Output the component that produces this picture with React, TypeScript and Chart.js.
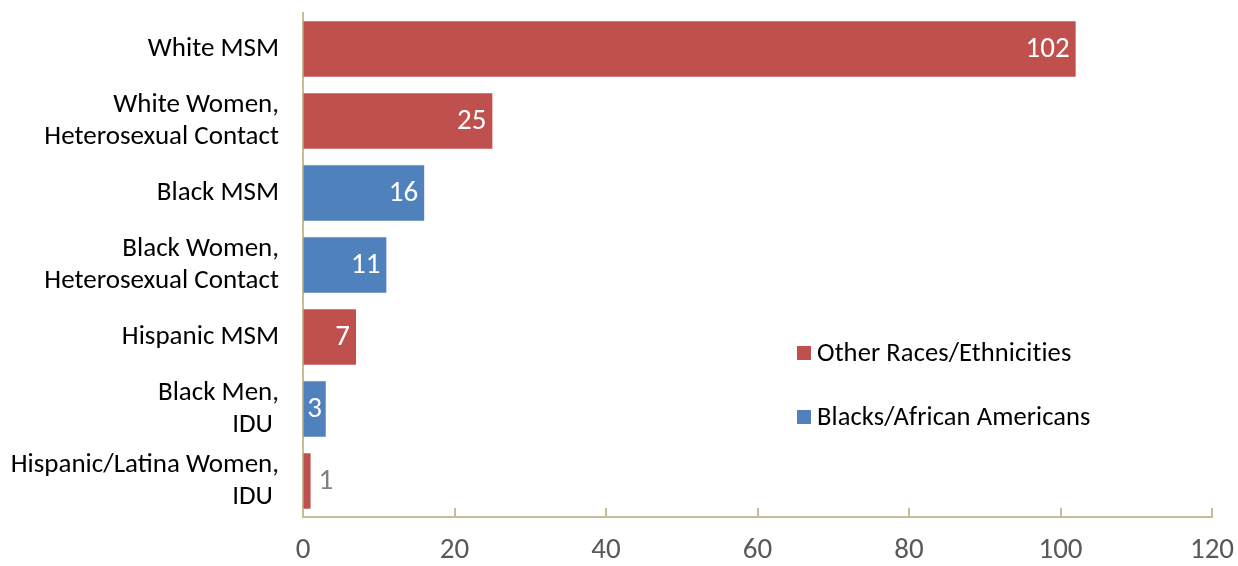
import React, { useEffect, useRef } from "react";
import { Chart, registerables } from "chart.js";

Chart.register(...registerables);

const categories: (string | string[])[] = [
  "White MSM",
  ["White Women,", "Heterosexual Contact"],
  "Black MSM",
  ["Black Women,", "Heterosexual Contact"],
  "Hispanic MSM",
  ["Black Men,", "IDU "],
  ["Hispanic/Latina Women,", "IDU "],
];

const otherRacesValues: (number | null)[] = [102, 25, null, null, 7, null, 1];
const blackValues: (number | null)[] = [null, null, 16, 11, null, 3, null];

const seriesNames = ["Other Races/Ethnicities", "Blacks/African Americans"];
const xTicks = { min: 0, max: 120, step: 20 };

const RED = "#C0504D";
const BLUE = "#4F81BD";
const AXIS = "#C4BD97";
const FONT = "Carlito, Calibri, Lato, sans-serif";

const W = 1238;
const H = 566;

const tickMarkPlugin = {
  id: "tickMarks",
  afterDraw(chart: any) {
    const xs = chart.scales.x;
    const ctx = chart.ctx;
    const bottom = chart.chartArea.bottom;
    ctx.save();
    ctx.strokeStyle = AXIS;
    ctx.lineWidth = 2;
    xs.ticks.forEach((t: any) => {
      const px = Math.round(xs.getPixelForValue(t.value));
      ctx.beginPath();
      ctx.moveTo(px, bottom - 9);
      ctx.lineTo(px, bottom);
      ctx.stroke();
    });
    ctx.restore();
  },
};

const dataLabelPlugin = {
  id: "dataLabels",
  afterDatasetsDraw(chart: any) {
    const ctx = chart.ctx;
    ctx.save();
    ctx.font = `29px ${FONT}`;
    ctx.textBaseline = "middle";
    chart.data.datasets.forEach((ds: any, di: number) => {
      const meta = chart.getDatasetMeta(di);
      meta.data.forEach((el: any, i: number) => {
        const v = ds.data[i];
        if (v === null || v === undefined) return;
        const label = String(v);
        const w = ctx.measureText(label).width;
        const barW = el.x - el.base;
        if (w + 4 < barW) {
          ctx.fillStyle = "#FFFFFF";
          ctx.textAlign = "right";
          const pad = barW - w < 16 ? (barW - w) / 2 : 6;
          ctx.fillText(label, el.x - pad, el.y + 1);
        } else {
          ctx.fillStyle = "#808080";
          ctx.textAlign = "left";
          ctx.fillText(label, el.x + 8, el.y + 1);
        }
      });
    });
    ctx.restore();
  },
};

const legendPlugin = {
  id: "customLegend",
  afterDraw(chart: any) {
    const ctx = chart.ctx;
    ctx.save();
    ctx.font = `26.5px ${FONT}`;
    (ctx as any).letterSpacing = "0.1px";
    ctx.textBaseline = "middle";
    ctx.textAlign = "left";
    const x0 = 797;
    const ys = [353, 417];
    chart.data.datasets.forEach((ds: any, i: number) => {
      const y = ys[i];
      ctx.fillStyle = ds.backgroundColor;
      ctx.fillRect(x0, y - 7, 14, 14);
      ctx.fillStyle = "#000000";
      ctx.fillText(ds.label, x0 + 20, y + 1);
    });
    ctx.restore();
  },
};

export default function App() {
  const ref = useRef<HTMLCanvasElement | null>(null);

  useEffect(() => {
    if (!ref.current) return;
    const chart = new Chart(ref.current, {
      type: "bar",
      data: {
        labels: categories as any,
        datasets: [
          {
            label: seriesNames[0],
            data: otherRacesValues,
            backgroundColor: RED,
          },
          {
            label: seriesNames[1],
            data: blackValues,
            backgroundColor: BLUE,
          },
        ],
      },
      options: {
        indexAxis: "y",
        responsive: false,
        animation: false,
        maintainAspectRatio: false,
        layout: { padding: { top: 13, right: 26, left: 0, bottom: 0 } },
        datasets: {
          bar: {
            grouped: false,
            barPercentage: 0.77,
            categoryPercentage: 1,
          },
        },
        plugins: {
          legend: { display: false },
          tooltip: { enabled: false },
        },
        scales: {
          x: {
            min: xTicks.min,
            max: xTicks.max,
            ticks: {
              stepSize: xTicks.step,
              color: "#595959",
              font: { family: FONT, size: 29 },
              padding: 16,
              maxRotation: 0,
              autoSkip: false,
            },
            grid: { display: true, drawOnChartArea: false, drawTicks: false },
            border: { display: true, color: AXIS, width: 2 },
            afterFit(scale: any) {
              scale.height = H - 517;
              scale.paddingLeft = 0;
              scale.paddingRight = 0;
              scale.paddingTop = 0;
              scale.paddingBottom = 0;
            },
          },
          y: {
            ticks: {
              color: "#000000",
              font: { family: FONT, size: 27, lineHeight: 1.2 },
              padding: 24,
              autoSkip: false,
            },
            grid: { display: true, drawOnChartArea: false, drawTicks: false },
            border: { display: true, color: AXIS, width: 2 },
            afterFit(scale: any) {
              scale.width = 303;
              scale.paddingLeft = 0;
              scale.paddingRight = 0;
              scale.paddingTop = 0;
              scale.paddingBottom = 0;
            },
          },
        },
      },
      plugins: [tickMarkPlugin, dataLabelPlugin, legendPlugin],
    });
    return () => chart.destroy();
  }, []);

  return (
    <div style={{ position: "fixed", left: 0, top: 0, width: W, height: H, background: "#fff" }}>
      <canvas ref={ref} width={W} height={H} style={{ width: W, height: H }} />
    </div>
  );
}
